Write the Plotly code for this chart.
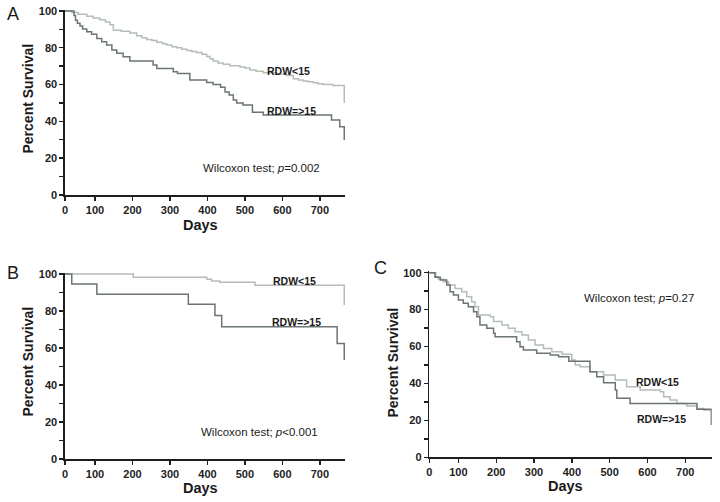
import plotly.graph_objects as go

# ---------------- data (days, percent survival) ----------------
a_low_days = [0, 38, 55, 78, 95, 113, 128, 140, 149, 170, 193, 211, 225, 238, 252, 265, 280, 291, 305, 318,
              332, 345, 358, 371, 385, 398, 407, 415, 428, 442, 460, 487, 500, 513, 530, 549, 585, 611, 629,
              642, 655, 668, 682, 695, 709, 735, 765]
a_low_surv = [100, 99.2, 98.3, 97.2, 96.2, 95.2, 94, 92.5, 89.5, 89, 88, 86.5, 85.5, 84.5, 84, 83, 82.2, 81.5,
              80.6, 80, 79.2, 78.5, 78, 77.5, 76.5, 75.3, 74, 72.8, 71.8, 71, 70.2, 69.5, 69, 68, 67.2, 66.5,
              65.6, 65, 63.2, 62.5, 62, 61.5, 61, 60.5, 60, 59.5, 50]
a_high_days = [0, 44, 48, 53, 60, 67, 78, 91, 105, 118, 131, 145, 158, 175, 193, 255, 265, 309, 320, 353, 398,
               415, 435, 447, 458, 469, 478, 495, 520, 549, 731, 753, 765]
a_high_surv = [100, 97.5, 95, 93.3, 91.8, 90.2, 88.7, 87.3, 85, 83.3, 81.5, 78.8, 77, 75.2, 72.8, 70.7, 68.8,
               67, 66, 62.5, 61.2, 60, 58.5, 56, 54.3, 51.6, 50, 48.9, 45, 43.5, 40.8, 37.1, 29.9]

b_low_days = [0, 202, 398, 411, 433, 527, 765]
b_low_surv = [100, 98.2, 97.1, 96.2, 95.5, 93.9, 83.2]
b_high_days = [0, 38, 105, 349, 420, 438, 746, 765]
b_high_surv = [100, 94.6, 89, 83.6, 77.5, 71.5, 62.5, 53.5]

c_low_days = [0, 40, 47, 60, 74, 91, 109, 122, 135, 144, 153, 184, 193, 215, 232, 250, 268, 285, 303, 325,
              347, 374, 400, 409, 422, 448, 484, 515, 545, 581, 634, 643, 660, 678, 704, 731, 749, 769]
c_low_surv = [100, 97.8, 96.5, 95.1, 93.3, 91.5, 89.7, 87, 84.3, 81.6, 77.1, 76.2, 73.5, 71.7, 69.9, 68, 66.3,
              63.5, 60.8, 59, 57.2, 55.8, 52.7, 50, 49, 46.4, 44.6, 41.9, 38.2, 36.5, 35.5, 32.8, 31, 29.2,
              27.8, 26.5, 25.6, 25.6]
c_high_days = [0, 38, 52, 69, 78, 87, 100, 113, 126, 140, 149, 157, 175, 193, 197, 254, 263, 272, 307, 343,
               365, 392, 448, 466, 484, 515, 519, 554, 731, 769]
c_high_surv = [100, 97.5, 96, 93.3, 89.7, 87.9, 85.2, 83.4, 81.6, 78.9, 76.2, 71.7, 69.9, 67.2, 65.3, 62.6,
               59.9, 58.1, 56.3, 55.4, 54.5, 52, 46.4, 43.7, 40.4, 36.5, 32, 29.2, 26, 17.5]

x_ticks = [100, 200, 300, 400, 500, 600, 700]
x_tick_text = ["100", "200", "300", "400", "500", "600", "700"]
y_ticks = [0, 20, 40, 60, 80, 100]
series_names = ["RDW<15", "RDW=>15"]
p_texts = ["Wilcoxon test; <i>p</i>=0.002", "Wilcoxon test; <i>p</i><0.001", "Wilcoxon test; <i>p</i>=0.27"]
panel_letters = ["A", "B", "C"]

# ---------------- styling / layout ----------------
W, H = 720, 502
LIGHT = "#b4bdb8"
DARK = "#6b7573"
AXC = "#1e1e1e"
FONT = "Liberation Sans, Arial, sans-serif"
YMAX = 100.8

# panels: (x0px, x1px, y_top100px, y_zero_px, xstart_day, xend_day)
panels = [
    (65, 345, 11, 195, 20, 767),
    (65, 345, 274, 459, 20, 767),
    (429.3, 711.7, 272.7, 457.3, 23, 770),
]
data = [
    (a_low_days, a_low_surv, a_high_days, a_high_surv),
    (b_low_days, b_low_surv, b_high_days, b_high_surv),
    (c_low_days, c_low_surv, c_high_days, c_high_surv),
]

fig = go.Figure()
layout = dict(width=W, height=H, margin=dict(l=0, r=0, t=0, b=0, autoexpand=False), paper_bgcolor="white",
              plot_bgcolor="white", showlegend=False, template="none")
annotations = []

def px2x(px):
    return px / W

def py2y(py):
    return 1 - py / H

for i, (pan, d) in enumerate(zip(panels, data)):
    x0, x1, y100, y0, xs, xe = pan
    n = "" if i == 0 else str(i + 1)
    top = y0 - (y0 - y100) * YMAX / 100.0
    xa = dict(domain=[px2x(x0), px2x(x1)], range=[xs, xe], showgrid=False, zeroline=False,
              showline=True, linecolor=AXC, linewidth=1.6, ticks="outside", ticklen=4, tickwidth=1.4,
              tickcolor=AXC, tickvals=[xs] + x_ticks, ticktext=["0"] + x_tick_text, automargin=False,
              tickfont=dict(family=FONT, size=11, color="#222", weight="bold"), anchor="y" + n,
              fixedrange=True)
    ya = dict(domain=[py2y(y0), py2y(top)], range=[0, YMAX], showgrid=False, zeroline=False,
              showline=True, linecolor=AXC, linewidth=1.6, ticks="outside", ticklen=4, tickwidth=1.4,
              tickcolor=AXC, tickvals=y_ticks, automargin=False,
              minor=dict(tickvals=[10, 30, 50, 70, 90], ticks="outside", ticklen=4, tickwidth=1.4,
                         tickcolor=AXC, showgrid=False),
              tickfont=dict(family=FONT, size=11, color="#222", weight="bold"), anchor="x" + n,
              fixedrange=True)
    layout["xaxis" + n] = xa
    layout["yaxis" + n] = ya
    ld, ls, hd, hs = d
    fig.add_trace(go.Scatter(x=ld, y=ls, mode="lines", line=dict(color=LIGHT, width=1.5, shape="hv"),
                             name=series_names[0], xaxis="x" + n, yaxis="y" + n))
    fig.add_trace(go.Scatter(x=hd, y=hs, mode="lines", line=dict(color=DARK, width=1.5, shape="hv"),
                             name=series_names[1], xaxis="x" + n, yaxis="y" + n))

def ann(text, px, py, size, bold=False, angle=0, xanchor="center"):
    annotations.append(dict(text=text, x=px2x(px), y=py2y(py), xref="paper", yref="paper",
                            showarrow=False, xanchor=xanchor, yanchor="middle", textangle=angle,
                            font=dict(family=FONT, size=size, color="#1a1a1a",
                                      weight="bold" if bold else "normal")))

# axis titles
for (cx, cy) in [(27.5, 99), (27.5, 362), (392.5, 362)]:
    ann("Percent Survival", cx, cy, 14, bold=True, angle=-90)
for (cx, cy) in [(200, 225), (200, 487.5), (565, 486)]:
    ann("Days", cx, cy, 14.5, bold=True)

# panel letters
for letter, (cx, cy) in zip(panel_letters, [(12.5, 14), (12.5, 272.5), (380, 268)]):
    ann(letter, cx, cy, 18)

# series labels
for (cx, cy) in [(288.5, 71), (294, 281), (657.5, 381.5)]:
    ann(series_names[0], cx, cy, 10.5, bold=True)
for (cx, cy) in [(291, 110.5), (296.5, 322), (661, 419)]:
    ann(series_names[1], cx, cy, 10.5, bold=True)

# test annotations
for t, (cx, cy) in zip(p_texts, [(261, 168), (259.5, 431.5), (639, 298)]):
    ann(t, cx, cy, 11.5)

layout["annotations"] = annotations
fig.update_layout(**layout)
fig.write_html("out.html", config={"displayModeBar": False, "staticPlot": True})

# remove the browser's default page margin so the figure sits at the window origin
with open("out.html", "r", encoding="utf-8") as f:
    html = f.read()
html = html.replace("<head>", "<head><style>html,body{margin:0;padding:0;overflow:hidden;}</style>", 1)
with open("out.html", "w", encoding="utf-8") as f:
    f.write(html)
